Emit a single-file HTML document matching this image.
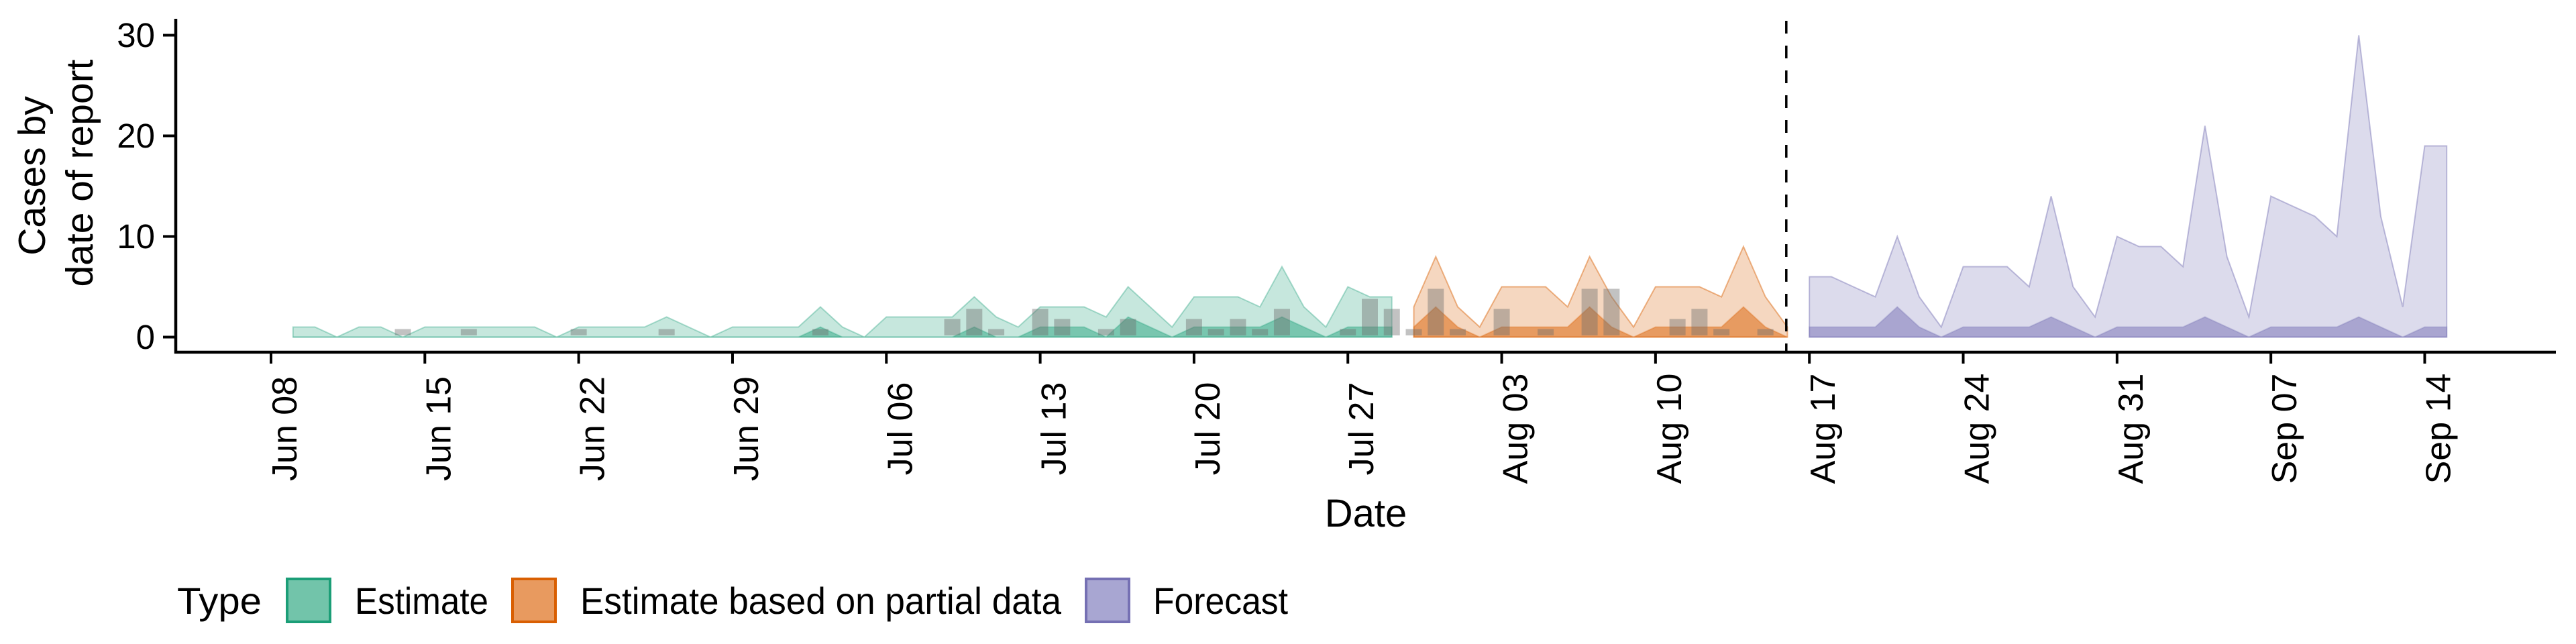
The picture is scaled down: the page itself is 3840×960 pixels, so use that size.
<!DOCTYPE html>
<html><head><meta charset="utf-8"><style>
body{margin:0;background:#fff}
svg{display:block;font-family:"Liberation Sans",sans-serif}
</style></head><body>
<svg id="chart" width="3840" height="960" viewBox="0 0 3840 960" xmlns="http://www.w3.org/2000/svg">
<g id="plot"></g>
<g id="axes"></g>
<text transform="translate(48,262) rotate(-90)" text-anchor="middle" dominant-baseline="central" font-size="57">Cases by</text>
<text transform="translate(119,258) rotate(-90)" text-anchor="middle" dominant-baseline="central" font-size="57">date of report</text>
<text x="2036" y="785" text-anchor="middle" font-size="58">Date</text>
<g>
<text x="264" y="915" font-size="56" textLength="126" lengthAdjust="spacingAndGlyphs">Type</text>
<rect x="428" y="863" width="64" height="64" fill="#72c4aa" stroke="#1b9e77" stroke-width="4"/>
<text x="529" y="915" font-size="56" textLength="199" lengthAdjust="spacingAndGlyphs">Estimate</text>
<rect x="764" y="863" width="64" height="64" fill="#e89a5f" stroke="#d95f02" stroke-width="4"/>
<text x="865" y="915" font-size="56" textLength="717" lengthAdjust="spacingAndGlyphs">Estimate based on partial data</text>
<rect x="1619" y="863" width="64" height="64" fill="#a8a6d2" stroke="#7570b3" stroke-width="4"/>
<text x="1719" y="915" font-size="56" textLength="201" lengthAdjust="spacingAndGlyphs">Forecast</text>
</g>
</svg>
<script>
// day index 0 = Jun 08
const estStart = 1;
const estOuter = [1,1,0,1,1,0,1,1,1,1,1,1,0,1,1,1,1,2,1,0,1,1,1,1,3,1,0,2,2,2,2,4,2,1,3,3,3,2,5,3,1,4,4,4,3,7,3,1,5,4,4];
const estInner = [0,0,0,0,0,0,0,0,0,0,0,0,0,0,0,0,0,0,0,0,0,0,0,0,1,0,0,0,0,0,0,1,0,0,1,1,1,0,2,1,0,1,1,1,1,2,1,0,1,1,1];
const partStart = 52;
const partOuter = [3,8,3,1,5,5,5,3,8,4,1,5,5,5,4,9,4,1];
const partInner = [1,3,1,0,1,1,1,1,3,1,0,1,1,1,1,3,1,0];
const fcStart = 70;
const fcOuter = [6,6,5,4,10,4,1,7,7,7,5,14,5,2,10,9,9,7,21,8,2,14,13,12,10,30,12,3,19,19];
const fcInner = [1,1,1,1,3,1,0,1,1,1,1,2,1,0,1,1,1,1,2,1,0,1,1,1,1,2,1,0,1,1];
const barDays = [6,9,14,18,25,31,32,33,35,36,38,39,42,43,44,45,46,49,50,51,52,53,54,56,58,60,61,64,65,66,68];
const barValues = [1,1,1,1,1,2,3,1,3,2,1,2,2,1,2,1,3,1,4,3,1,5,1,3,1,5,5,2,3,1,1];
const tickDays = [0,7,14,21,28,35,42,49,56,63,70,77,84,91,98];
const tickLabels = ["Jun 08","Jun 15","Jun 22","Jun 29","Jul 06","Jul 13","Jul 20","Jul 27","Aug 03","Aug 10","Aug 17","Aug 24","Aug 31","Sep 07","Sep 14"];
const yTicks = [0,10,20,30];
const forecastDay = 68.95;

const NS="http://www.w3.org/2000/svg";
const x = d => 404 + d*32.76;
const y = v => 502.5 - v*15;
const plot=document.getElementById('plot'), axes=document.getElementById('axes');
function mk(tag, parent, attrs){const e=document.createElementNS(NS,tag);for(const k in attrs)e.setAttribute(k,attrs[k]);parent.appendChild(e);return e;}
function area(start, vals, fill, stroke, name){
  let p=`M${x(start)},${y(0)}`;
  vals.forEach((v,i)=>{p+=` L${x(start+i)},${y(v)}`;});
  p+=` L${x(start+vals.length-1)},${y(0)} Z`;
  const e=mk('path',plot,{d:p,fill:fill,stroke:stroke,'stroke-width':2});
  
  
}
area(estStart, estOuter, 'rgba(27,158,119,0.25)', 'rgba(27,158,119,0.35)', 'estimate-outer-band');
area(estStart, estInner, 'rgba(27,158,119,0.45)', 'rgba(27,158,119,0.3)', 'estimate-inner-band');
area(partStart, partOuter, 'rgba(217,95,2,0.25)', 'rgba(217,95,2,0.45)', 'partial-outer-band');
area(partStart, partInner, 'rgba(217,95,2,0.5)', 'rgba(217,95,2,0.3)', 'partial-inner-band');
area(fcStart, fcOuter, 'rgba(117,112,179,0.25)', 'rgba(117,112,179,0.45)', 'forecast-outer-band');
area(fcStart, fcInner, 'rgba(117,112,179,0.5)', 'rgba(117,112,179,0.3)', 'forecast-inner-band');
barDays.forEach((d,i)=>{
  const v=barValues[i];
  const r=mk('rect',plot,{x:x(d)-12,y:y(v-0.2),width:24,height:Math.max(0,y(0.17)-y(v-0.2)),fill:'rgba(110,110,110,0.42)'});
  
  
});
const dl=mk('line',plot,{x1:x(forecastDay),x2:x(forecastDay),y1:31,y2:525,stroke:'#000','stroke-width':3.5,'stroke-dasharray':'19 18'});


// axes
const ya=mk('line',axes,{x1:262,x2:262,y1:28,y2:527,stroke:'#000','stroke-width':4.5});


const xa=mk('line',axes,{x1:260,x2:3810,y1:525,y2:525,stroke:'#000','stroke-width':4.5});


yTicks.forEach(v=>{
  const t=mk('line',axes,{x1:243,x2:262,y1:y(v),y2:y(v),stroke:'#000','stroke-width':4});
  
  
  const l=mk('text',axes,{x:231,y:y(v),'text-anchor':'end','dominant-baseline':'central','font-size':51});
  l.textContent=String(v);
  
  
});
tickDays.forEach((d,i)=>{
  const t=mk('line',axes,{x1:x(d),x2:x(d),y1:525,y2:542,stroke:'#000','stroke-width':4});
  
  
  const l=mk('text',axes,{transform:`translate(${x(d)+21},639) rotate(-90)`,'text-anchor':'middle','dominant-baseline':'central','font-size':52});
  l.textContent=tickLabels[i];
  
  
});
</script>
</body></html>
